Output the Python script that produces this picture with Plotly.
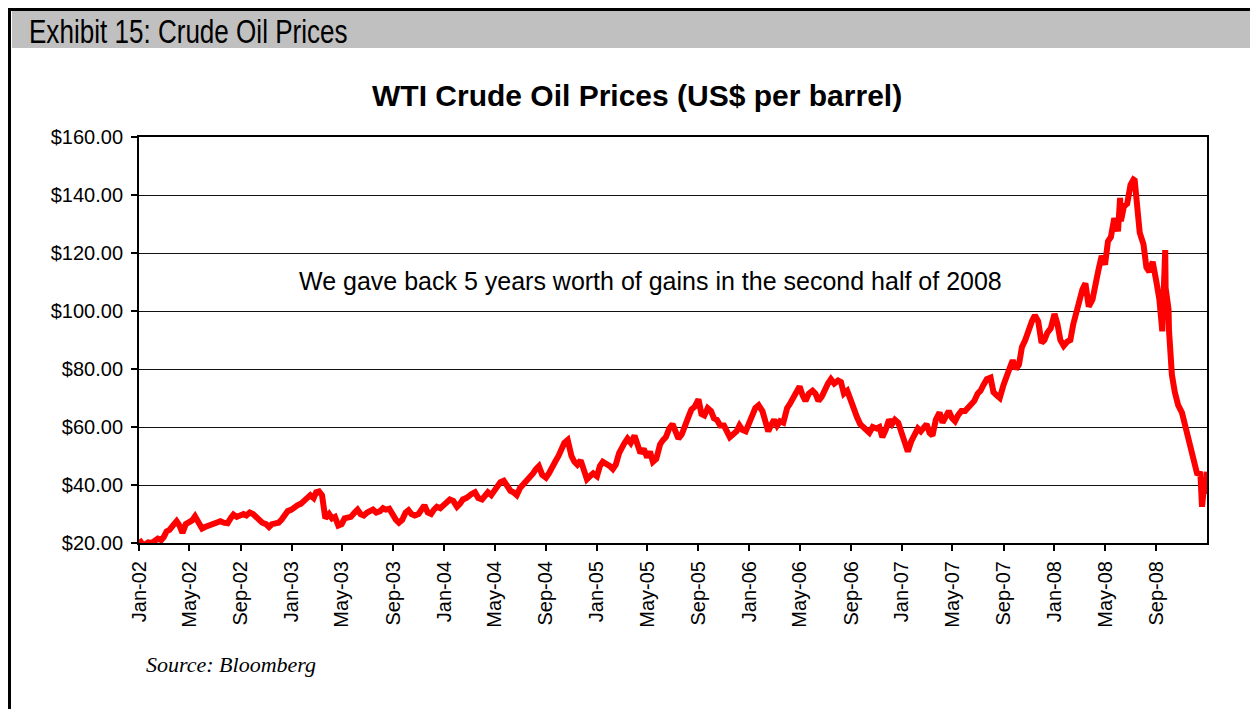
import plotly.graph_objects as go
import datetime as dt

# ---- data (WTI, US$ per barrel); 4 readings per month (days 1, 8, 15, 23)
sample_days = [1, 8, 15, 23]
prices_2002 = [21.2, 19.8, 19.5, 20.2, 20.0, 20.8, 21.5, 21.0, 22.0, 24.0, 24.5, 26.0,
               27.5, 26.0, 23.5, 26.5, 27.0, 27.8, 29.2, 27.5, 25.0, 25.5, 25.8, 26.5,
               27.0, 26.8, 27.5, 27.0, 26.8, 28.5, 29.8, 29.0, 29.5, 30.0, 29.5, 30.5,
               30.0, 29.0, 28.5, 27.0, 26.5, 25.5, 26.5, 27.0, 27.0, 28.0, 29.5, 31.0]
prices_2003 = [31.5, 32.5, 33.0, 33.5, 34.5, 35.5, 36.5, 35.5, 37.5, 37.8, 36.5, 28.5,
               30.0, 28.5, 29.0, 26.0, 26.5, 28.5, 29.0, 29.0, 30.5, 31.5, 30.0, 29.5,
               30.5, 31.0, 31.5, 30.5, 31.0, 32.0, 31.5, 31.8, 29.5, 28.0, 27.0, 28.0,
               30.5, 31.3, 30.0, 29.5, 30.0, 31.5, 33.0, 30.5, 30.0, 31.5, 32.5, 32.0]
prices_2004 = [33.0, 34.0, 35.0, 34.5, 32.5, 33.5, 35.0, 35.5, 36.5, 37.0, 37.5, 35.5,
               35.0, 36.5, 37.5, 36.5, 38.5, 40.0, 41.0, 41.5, 39.5, 38.0, 37.5, 36.5,
               39.0, 40.0, 41.0, 42.5, 44.0, 45.5, 46.5, 43.5, 42.5, 44.0, 45.5, 48.0,
               50.0, 52.5, 54.5, 55.5, 50.0, 48.0, 47.0, 48.5, 44.5, 42.0, 43.0, 44.0]
prices_2005 = [43.0, 46.5, 48.0, 47.5, 46.5, 45.5, 47.0, 51.0, 53.0, 54.5, 56.0, 54.5,
               57.0, 53.0, 51.0, 52.5, 49.5, 51.5, 48.0, 49.0, 54.0, 55.5, 56.5, 59.5,
               61.0, 58.5, 56.0, 57.5, 61.5, 63.5, 66.0, 67.0, 69.5, 64.5, 64.0, 66.5,
               65.5, 63.0, 62.5, 60.5, 60.5, 58.5, 56.5, 57.5, 58.5, 60.5, 59.0, 58.5]
prices_2006 = [62.0, 64.0, 66.5, 67.5, 65.5, 62.0, 58.5, 61.0, 62.5, 60.5, 62.0, 61.5,
               66.5, 68.0, 70.0, 72.5, 74.0, 71.0, 69.0, 71.5, 72.5, 71.5, 69.0, 70.5,
               73.5, 75.0, 76.5, 75.0, 76.0, 75.5, 71.5, 72.5, 69.0, 65.5, 63.5, 61.0,
               60.0, 59.0, 58.0, 60.0, 59.5, 60.0, 56.5, 59.0, 62.5, 61.0, 62.5, 61.5]
prices_2007 = [58.0, 54.0, 51.5, 55.0, 57.5, 59.5, 58.5, 60.5, 61.0, 58.0, 57.0, 62.5,
               65.0, 61.5, 63.0, 65.5, 63.0, 62.0, 64.0, 65.5, 65.5, 66.5, 68.0, 69.0,
               71.5, 72.5, 74.5, 76.5, 77.0, 72.0, 71.0, 70.0, 74.5, 78.0, 80.0, 83.0,
               80.0, 81.5, 87.5, 90.0, 94.0, 96.5, 98.5, 96.5, 89.0, 90.0, 92.5, 94.0]
prices_2008 = [99.0, 95.5, 90.0, 88.0, 89.5, 90.0, 95.5, 100.0, 103.0, 107.5, 109.5, 101.5,
               104.0, 110.0, 114.0, 119.0, 116.0, 124.0, 125.5, 132.0, 127.5, 131.0, 136.0, 137.0,
               143.5, 145.3, 138.5, 127.0, 123.0, 115.0, 113.5, 117.0, 110.0, 104.0, 93.0, 108.0,
               93.5, 78.0, 72.0, 67.5, 65.0, 61.0, 55.5, 53.0, 47.0, 43.5, 44.5, 38.0]
extra_dates = ["2008-06-06", "2008-07-11", "2008-09-22", "2008-09-30",
               "2008-12-19", "2008-12-26", "2008-12-31"]
extra_prices = [139.0, 145.0, 121.0, 100.5, 32.5, 37.0, 44.6]

year_prices = {2002: prices_2002, 2003: prices_2003, 2004: prices_2004, 2005: prices_2005,
               2006: prices_2006, 2007: prices_2007, 2008: prices_2008}

y_ticks = [20, 40, 60, 80, 100, 120, 140, 160]
y_tick_labels = ["$20.00", "$40.00", "$60.00", "$80.00", "$100.00", "$120.00", "$140.00", "$160.00"]
title_text = "WTI Crude Oil Prices (US$ per barrel)"
header_text = "Exhibit 15: Crude Oil Prices"
note_text = "We gave back 5 years worth of gains in the second half of 2008"
source_text = "Source: Bloomberg"

# ---- assemble series
pts = []
for yr, vals in year_prices.items():
    i = 0
    for m in range(1, 13):
        for d in sample_days:
            pts.append((dt.date(yr, m, d), vals[i]))
            i += 1
for d, v in zip(extra_dates, extra_prices):
    pts.append((dt.date.fromisoformat(d), v))
pts.sort(key=lambda t: t[0])
dates = [p[0] for p in pts]
prices = [p[1] for p in pts]

# ---- layout geometry (pixels)
W, H = 1250, 709
L, R, T, B = 139, 1207, 137, 543
pw, ph = R - L, B - T


def px(x):
    return (x - L) / pw


def py(y):
    return (B - y) / ph


fig = go.Figure()
fig.add_trace(go.Scatter(x=dates, y=prices, mode="lines",
                         line=dict(color="#FF0000", width=6),
                         hoverinfo="x+y", showlegend=False))

axis_font = dict(family="Liberation Sans, Arial, sans-serif", size=20, color="#000")

fig.update_layout(
    width=W, height=H,
    margin=dict(l=L, r=W - R, t=T, b=H - B, pad=0),
    paper_bgcolor="#FFFFFF", plot_bgcolor="#FFFFFF",
    font=axis_font,
    xaxis=dict(type="date", range=["2002-01-01", "2008-12-31"],
               tick0="2002-01-01", dtick="M4", tickformat="%b-%y",
               tickangle=-90, ticks="outside", ticklen=6, tickwidth=1.5, tickcolor="#000",
               showgrid=False, zeroline=False,
               showline=True, linecolor="#000", linewidth=2, mirror=True,
               tickfont=dict(family="Liberation Sans, Arial, sans-serif", size=20, color="#000"),
               ticklabelstandoff=2),
    yaxis=dict(range=[20, 160], tickmode="array", tickvals=y_ticks, ticktext=y_tick_labels,
               ticks="outside", ticklen=6, tickwidth=1.5, tickcolor="#000",
               showgrid=True, gridcolor="#111", gridwidth=1, zeroline=False,
               showline=True, linecolor="#000", linewidth=2, mirror=True,
               tickfont=axis_font, ticklabelstandoff=4),
)

# frame and header band
fig.add_shape(type="rect", xref="paper", yref="paper",
              x0=px(12), x1=px(1252), y0=py(11), y1=py(48),
              fillcolor="#C0C0C0", line=dict(width=0), layer="below")
fig.add_shape(type="line", xref="paper", yref="paper",
              x0=px(9.5), x1=px(9.5), y0=py(8), y1=py(712),
              line=dict(color="#000", width=3))
fig.add_shape(type="line", xref="paper", yref="paper",
              x0=px(8), x1=px(1252), y0=py(9.5), y1=py(9.5),
              line=dict(color="#000", width=3))

fig.add_annotation(text=header_text, xref="paper", yref="paper",
                   x=px(27), y=py(31), xanchor="left", yanchor="middle", align="left",
                   showarrow=False,
                   font=dict(family="Liberation Sans, Arial, sans-serif", size=33, color="#000"))
fig.add_annotation(text="<b>" + title_text + "</b>", xref="paper", yref="paper",
                   x=px(637), y=py(95), xanchor="center", yanchor="middle", showarrow=False,
                   font=dict(family="Liberation Sans, Arial, sans-serif", size=30, color="#000"))
fig.add_annotation(text=note_text, xref="paper", yref="paper",
                   x=px(650), y=py(281), xanchor="center", yanchor="middle", showarrow=False,
                   font=dict(family="Liberation Sans, Arial, sans-serif", size=25, color="#000"))
fig.add_annotation(text="<i>" + source_text + "</i>", xref="paper", yref="paper",
                   x=px(144), y=py(664), xanchor="left", yanchor="middle", showarrow=False,
                   font=dict(family="Liberation Serif, Times New Roman, serif", size=22, color="#000"))

post = """
document.body.style.margin='0';document.body.style.overflow='hidden';
var gd=document.getElementById('{plot_id}');
function squeezeHeader(){
  gd.querySelectorAll('text.annotation-text').forEach(function(t){
    if(t.textContent.indexOf('Exhibit')===0){
      var x=parseFloat(t.getAttribute('x'))||0;
      t.setAttribute('transform','translate('+(x*(1-0.79))+',0) scale(0.79,1)');
    }
  });
}
squeezeHeader();
if(gd.on){gd.on('plotly_afterplot', squeezeHeader);}
"""

fig.write_html("out.html", post_script=post, config={"displayModeBar": False})
